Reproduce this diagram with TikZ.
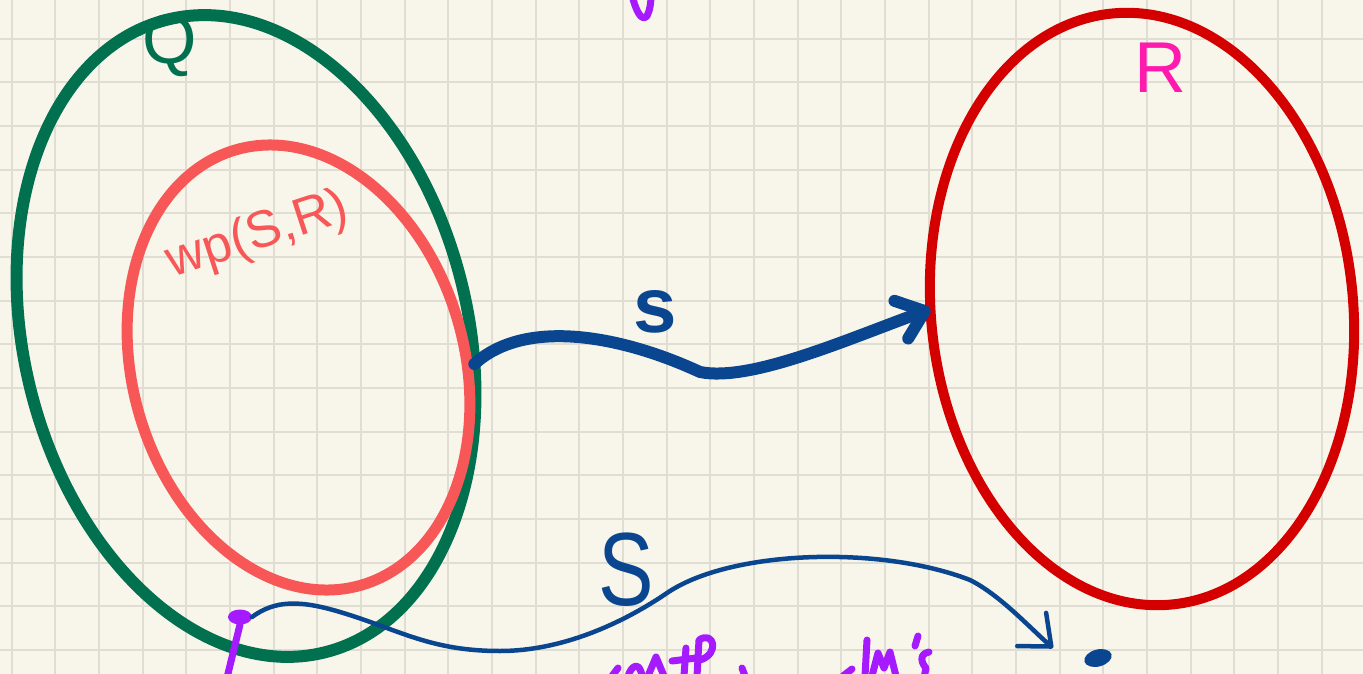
\documentclass[tikz,border=0pt]{standalone}
\usepackage{fontspec}
\setmainfont{Liberation Sans}
\usepackage{tikz}
\usetikzlibrary{arrows.meta,shapes.geometric}
\definecolor{paper}{HTML}{F8F6EA}
\definecolor{gridc}{HTML}{E0DED2}
\definecolor{qgreen}{HTML}{00704F}
\definecolor{wpred}{HTML}{F75757}
\definecolor{rred}{HTML}{D40000}
\definecolor{rpink}{HTML}{FF1AAE}
\definecolor{sblue}{HTML}{0A468F}
\definecolor{pen}{HTML}{A61AFF}

\begin{document}
\begin{tikzpicture}[
  x=1pt, y=-1pt,
  set/.style={ellipse, draw, line width=11pt, inner sep=0pt, outer sep=0pt},
  lbl/.style={inner sep=0pt, font=\fontsize{#1}{#1}\selectfont},
  gridline/.style={draw=gridc, line width=2pt},
  bigarr/.style={draw=sblue, line width=12pt, line cap=round, line join=round,
    -{Straight Barb[round, length=25pt, width=40pt]}},
  thinarr/.style={draw=sblue, line width=4.5pt, line cap=round, line join=round,
    -{Straight Barb[round, length=26pt, width=44pt]}},
  penline/.style={draw=pen, line width=7pt, line cap=round, line join=round},
  blob/.style={ellipse, inner sep=0pt, outer sep=0pt}
]
\clip (0,0) rectangle (1363,674);
\fill[paper] (0,0) rectangle (1363,674);
% squared paper
\foreach \i in {0,...,31}
  \draw[gridline] ({11.7+43.66*\i},0) -- ++(0,674);
\foreach \j in {0,...,15}
  \draw[gridline] (0,{38.7+43.66*\j}) -- ++(1363,0);

% the sets
\node[set, draw=qgreen, line width=12pt, minimum width=444pt, minimum height=652pt, rotate=14] (Q) at (246,336) {};
\node[set, draw=wpred, minimum width=332pt, minimum height=453pt, rotate=16] (WP) at (298.5,367.5) {};
\node[set, draw=rred, line width=10pt, minimum width=422pt, minimum height=594pt, rotate=6] (R) at (1142,309) {};

% labels
\node[lbl=70, text=qgreen] (Qlbl) at (170,46) {Q};
\node[lbl=72, text=rpink] (Rlbl) at (1160,68) {R};
\node[lbl=52, text=wpred, rotate=18] (WPlbl) at (258,236) {wp(S,R)};
\node[lbl=78, text=sblue, font=\fontsize{78}{78}\selectfont\bfseries] (slbl) at (655,312) {s};
\node[lbl=104, text=sblue, xscale=0.8] (Slbl) at (626,570) {S};

% S maps Q into R
\draw[bigarr] (Q.-21) .. controls (525,318) and (620,335) .. (700,372)
  .. controls (750,382) and (843,341) .. (R.174);

% a run of S from one state
\node[blob, fill=pen, minimum width=24pt, minimum height=15pt] (pdot) at (240,617) {};
\node[blob, fill=sblue, minimum width=28pt, minimum height=17pt, rotate=15] (bdot) at (1098,658) {};
\coordinate (stip) at (1053,648);
\draw[thinarr] (pdot.east) .. controls (275,600) and (300,600) .. (340,612)
  .. controls (400,630) and (430,651) .. (500,651)
  .. controls (560,651) and (620,625) .. (667,593)
  .. controls (730,550) and (880,545) .. (970,580)
  .. controls (1000,595) and (1030,628) .. (stip);
\draw[penline] (pdot.south) -- (224,690);

% pen marks cut off at the edges
\draw[penline] (632,-5) .. controls (636,12) and (642,22) .. (647,16) .. controls (650,10) and (651,3) .. (651,-5);
\draw[penline] (612,676) -- (618,668);
\draw[penline] (628,676) .. controls (632,664) and (640,662) .. (642,676);
\draw[penline] (648,676) -- (656,657) -- (664,676);
\draw[penline] (686,648) -- (684,676);
\draw[penline] (672,661) -- (696,658);
\draw[penline] (697,676) -- (699,640) .. controls (714,630) and (720,654) .. (700,660);
\draw[penline] (742,668) -- (745,676);
\draw[penline] (843,676) -- (852,669);
\draw[penline] (867,640) -- (865,676);
\draw[penline] (872,676) -- (878,653) -- (884,668) -- (890,652) -- (896,676);
\draw[penline] (918,636) -- (915,646);
\draw[penline] (929,652) .. controls (918,654) and (922,664) .. (926,668) -- (924,678);
\end{tikzpicture}
\end{document}
